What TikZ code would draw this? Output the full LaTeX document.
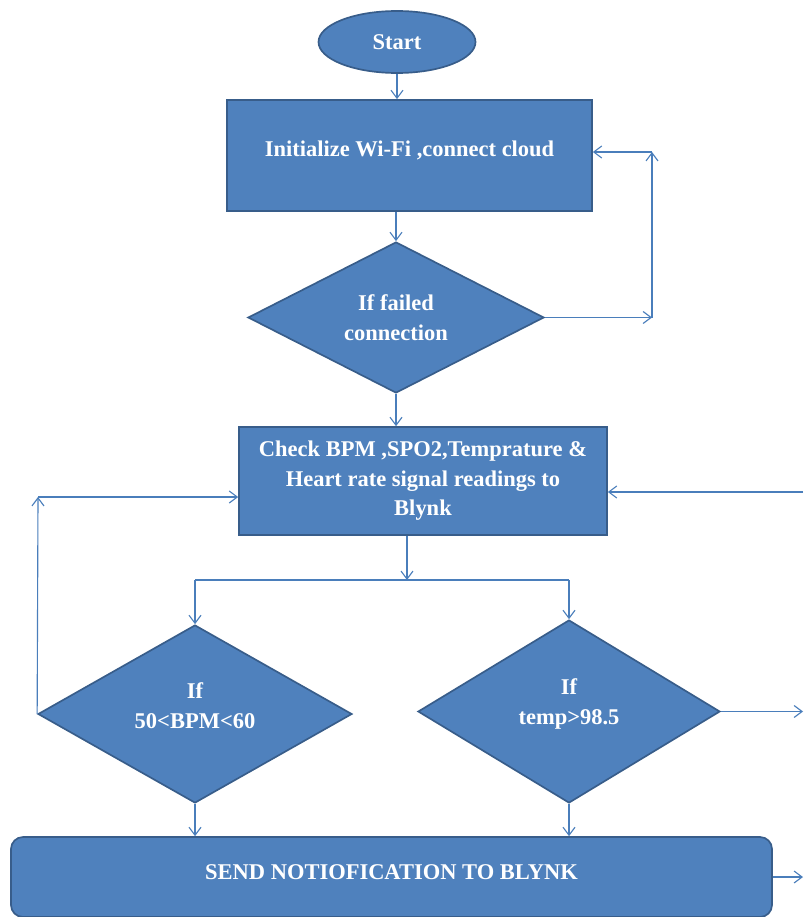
\documentclass[tikz,border=0pt]{standalone}
\usepackage{fontspec}
\setmainfont{Liberation Serif}
\usetikzlibrary{shapes.geometric, arrows.meta, positioning, calc}
\definecolor{boxblue}{RGB}{79, 129, 189}
\definecolor{edgeblue}{RGB}{56, 93, 138}
\definecolor{lineblue}{RGB}{74, 126, 187}
\tikzset{
  flowbox/.style={draw=edgeblue, fill=boxblue, line width=1.2pt, text=white, align=center, inner sep=2pt, font=\fontsize{16}{21}\selectfont\bfseries},
  decision/.style={flowbox, diamond, shape aspect=1.8},
  flowline/.style={draw=lineblue, line width=0.8pt},
  flowarrow/.style={flowline, -{Straight Barb[length=2mm, width=3mm]}}
}

\begin{document}
\begin{tikzpicture}
  \useasboundingbox (0, 0) rectangle (20.125, -22.925);

  % Connection setup
  \node[flowbox, ellipse, minimum width=3.925cm, minimum height=1.55cm] (start) at (9.925, -1.05) {Start};
  \node[flowbox, text depth=0.35cm, minimum width=9.125cm, minimum height=2.775cm] (wifi) at (10.2375, -3.8875) {Initialize Wi-Fi ,connect cloud};
  \node[decision, minimum width=7.4cm, minimum height=3.775cm] (failed) at (9.9, -7.9375) {If failed\\connection};

  % Readings
  \node[flowbox, minimum width=9.2cm, minimum height=2.7cm] (readings) at (10.575, -12.025) {Check BPM ,SPO2,Temprature \&\\Heart rate signal readings to\\Blynk};

  % Checks
  \node[decision, text depth=0.42cm, minimum width=7.85cm, minimum height=4.45cm] (bpm) at (4.875, -17.85) {If\\50<BPM<60};
  \node[decision, text depth=0.5cm, minimum width=7.55cm, minimum height=4.575cm] (temp) at (14.225, -17.7875) {If\\temp>98.5};
  \node[flowbox, text depth=0.25cm, rounded corners=0.3cm, minimum width=19.025cm, minimum height=2cm] (notify) at (9.7875, -21.925) {SEND NOTIOFICATION TO BLYNK};

  % Turning points
  \coordinate (retryA) at (16.3, -7.9375);
  \coordinate (retryB) at (16.3, -3.8);
  \coordinate (split) at (10.175, -14.5);
  \coordinate (loopL) at (0.95, -12.425);
  \coordinate (edgeR) at (20.075, -12.3);

  % Main flow
  \draw[flowarrow] (start) -- (start |- wifi.north);
  \draw[flowarrow] (failed.north |- wifi.south) -- (failed.north);
  \draw[flowarrow] (failed.south) -- (failed.south |- readings.north);

  % Retry loop
  \draw[flowarrow] (failed.east) -- (retryA);
  \draw[flowarrow] (retryA) -- (retryB);
  \draw[flowarrow] (retryB) -- (retryB -| wifi.east);

  % Branches
  \draw[flowarrow] (split |- readings.south) -- (split);
  \draw[flowline] (bpm.north |- split) -- (temp.north |- split);
  \draw[flowarrow] (bpm.north |- split) -- (bpm.north);
  \draw[flowarrow] (temp.north |- split) -- (temp.north);
  \draw[flowarrow] (bpm.south) -- (bpm.south |- notify.north);
  \draw[flowarrow] (temp.south) -- (temp.south |- notify.north);

  % Loops back to the readings
  \draw[flowarrow] (bpm.west) -- (loopL);
  \draw[flowarrow] (loopL) -- (loopL -| readings.west);
  \draw[flowarrow] (edgeR) -- (edgeR -| readings.east);
  \draw[flowarrow] (temp.east) -- (temp.east -| edgeR);
  \draw[flowarrow] (notify.east) -- (notify.east -| edgeR);
\end{tikzpicture}
\end{document}
